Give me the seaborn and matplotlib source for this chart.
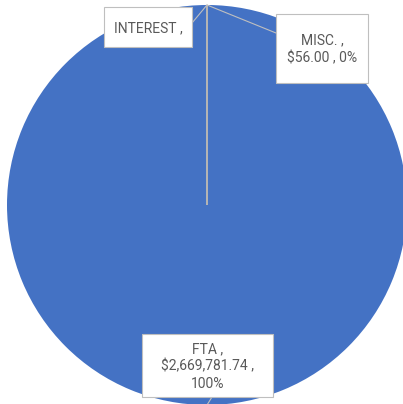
import matplotlib
matplotlib.use("Agg")
import numpy as np
import seaborn as sns
import matplotlib.pyplot as plt
from matplotlib.patches import Rectangle

# funding sources
labels = ["FTA", "INTEREST", "MISC."]
values = [2669781.74, 0.0, 56.00]
label_text = ["FTA ,\n$2,669,781.74 ,\n100%", "INTEREST ,", "MISC. ,\n$56.00 , 0%"]

# label box layout in pixels: centre x, centre y (from top), width, height
box_px = [(207.5, 365.5, 131, 63), (148, 27, 88, 40), (322, 48.5, 92, 69)]
# where the leader line leaves each box (pixels, from box top-left)
lead_px = [(70, 63), (88, 16), (0, 19)]

R_PX = 200.0
CX, CY = 207.0, 205.0


def to_data(px, py):
    return (px - CX) / R_PX, (CY - py) / R_PX


sns.set_theme(style="white")
plt.rcParams["font.family"] = ["Roboto", "DejaVu Sans"]

fig = plt.figure(figsize=(4.03, 4.04), dpi=100)
ax = fig.add_axes([0, 0, 1, 1])

blue = "#4472C4"
wedges, _ = ax.pie(values, colors=[blue] * len(values), startangle=90,
                   counterclock=False, radius=1.0,
                   wedgeprops=dict(linewidth=0.8))
for i, w in enumerate(wedges):
    w.set_edgecolor("none" if i == 0 else "#b4b4b4")

grey = "#bfbfbf"
for w, txt, (bx, by, bw, bh), (lx, ly) in zip(wedges, label_text, box_px, lead_px):
    ang = np.deg2rad((w.theta1 + w.theta2) / 2)
    edge = (np.cos(ang), np.sin(ang))
    x0, y0 = to_data(bx - bw / 2, by + bh / 2)
    ax.add_patch(Rectangle((x0, y0), bw / R_PX, bh / R_PX, facecolor="white",
                           edgecolor=grey, lw=0.8, zorder=4, clip_on=False))
    start = to_data(bx - bw / 2 + lx, by - bh / 2 + ly)
    ax.annotate("", xy=edge, xytext=start, annotation_clip=False,
                arrowprops=dict(arrowstyle="-", color=grey, lw=0.8,
                                shrinkA=0, shrinkB=0), zorder=3)
    tx, ty = to_data(bx, by + 1)
    ax.text(tx, ty, txt, ha="center", va="center", fontsize=10,
            color="#595959", linespacing=1.3, zorder=5)

ax.set_xlim(-1.035, 0.98)
ax.set_ylim(-0.995, 1.025)
ax.set_aspect("auto")
ax.axis("off")

fig.savefig("out.png", dpi=100, facecolor="white")
